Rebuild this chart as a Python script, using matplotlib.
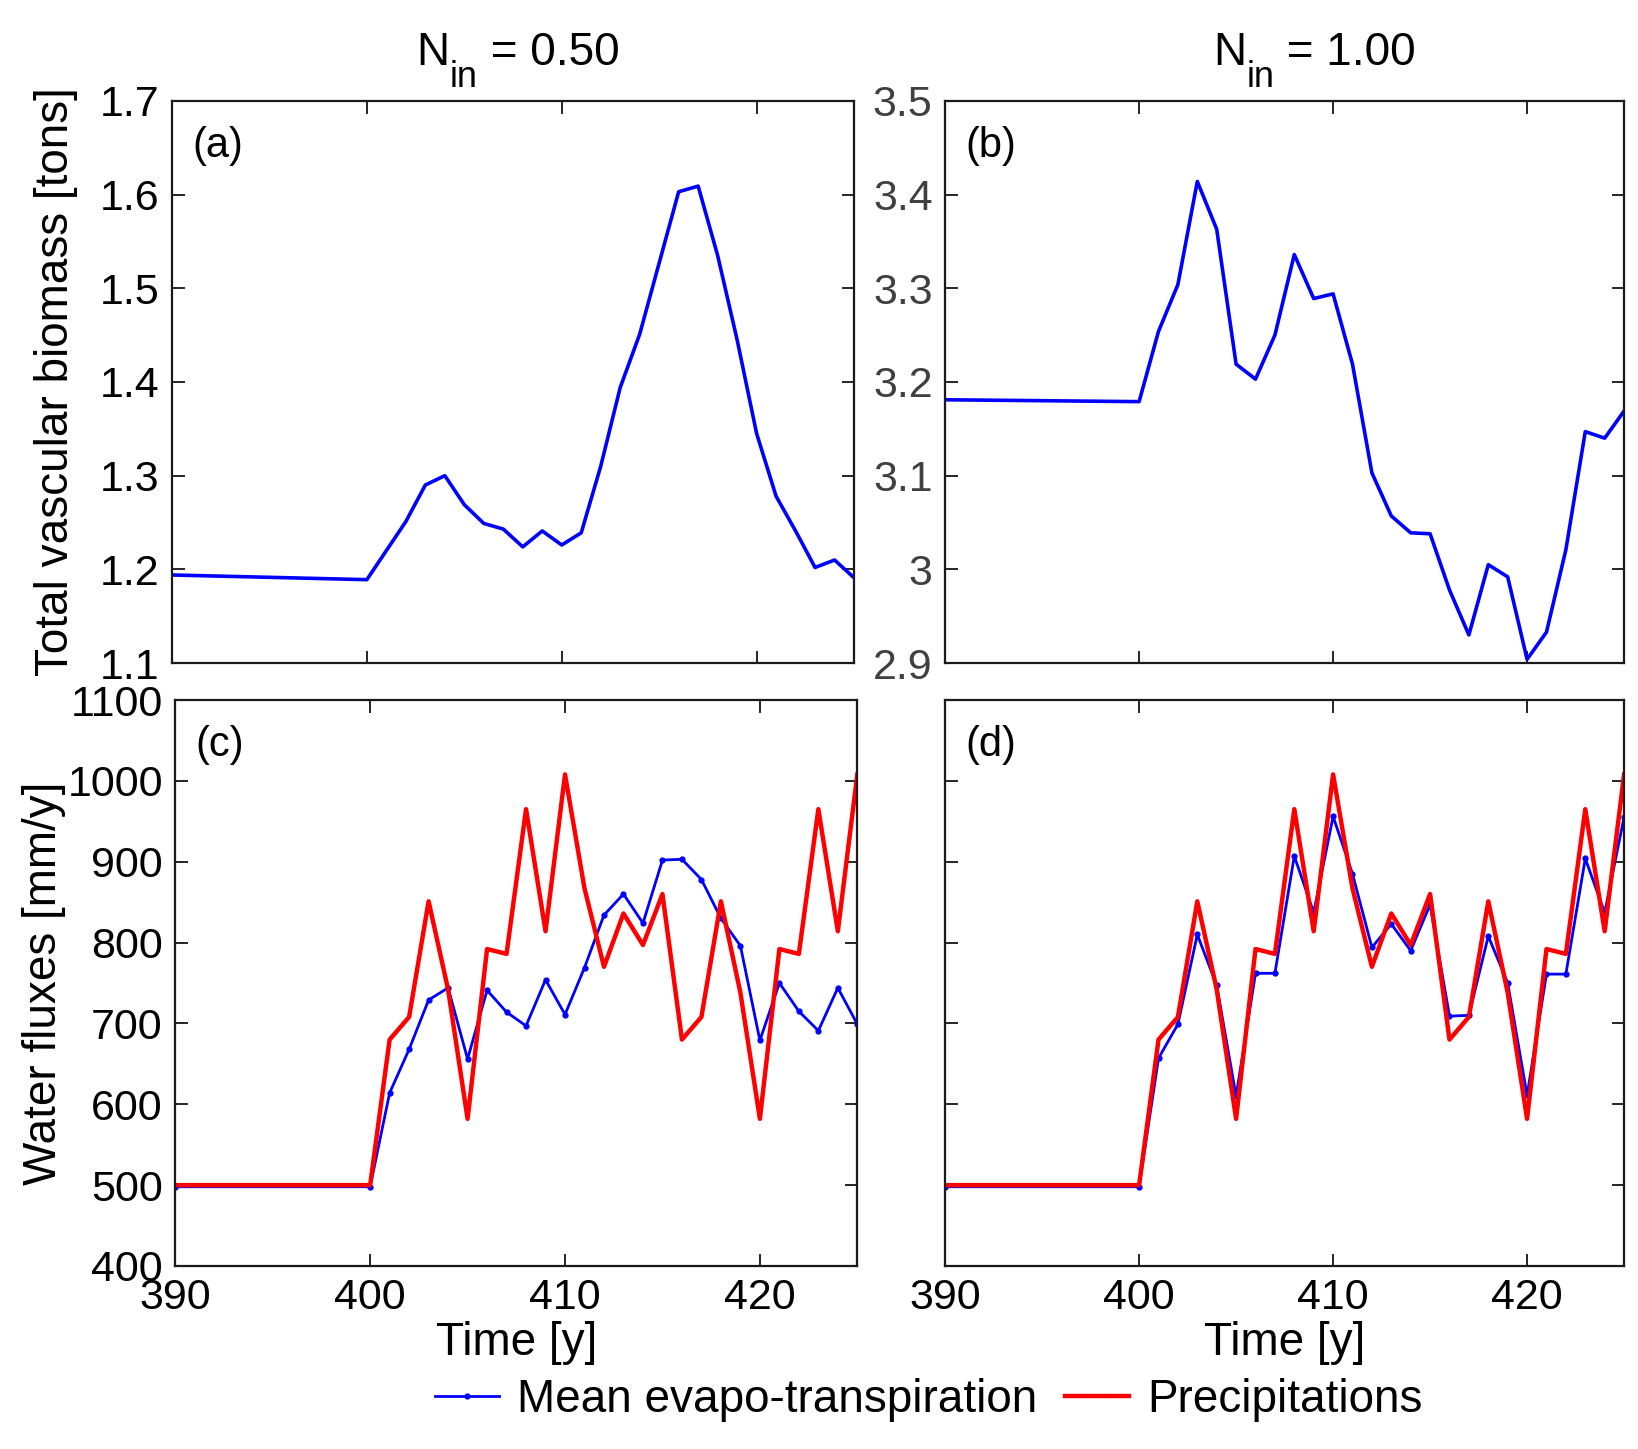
import matplotlib
matplotlib.use("Agg")
import matplotlib.pyplot as plt

plt.rcParams['font.family'] = ['Liberation Sans', 'DejaVu Sans']

# years: one point at 390, then yearly from 400 to 425
years = [390] + list(range(400, 426))

# total vascular biomass [tons]
biomass_050 = [1.194, 1.189, 1.220, 1.251, 1.290, 1.300, 1.269, 1.249, 1.243, 1.224,
               1.241, 1.226, 1.239, 1.310, 1.394, 1.451, 1.527, 1.603, 1.609, 1.535,
               1.445, 1.345, 1.278, 1.241, 1.202, 1.210, 1.191]
biomass_100 = [3.181, 3.179, 3.254, 3.304, 3.414, 3.363, 3.219, 3.203, 3.250, 3.336,
               3.289, 3.294, 3.219, 3.103, 3.057, 3.039, 3.038, 2.978, 2.930, 3.005,
               2.992, 2.904, 2.933, 3.021, 3.147, 3.140, 3.169]

# water fluxes [mm/y]
precip = [500, 500, 680, 708, 851, 742, 582, 792, 786, 965, 814, 1008, 867, 770, 836,
          797, 860, 680, 708, 851, 738, 582, 792, 786, 965, 814, 1008]
et_050 = [498, 498, 614, 668, 729, 744, 656, 741, 714, 697, 754, 711, 769, 834, 860,
          824, 902, 903, 878, 830, 796, 679, 750, 715, 691, 744, 699]
et_100 = [498, 498, 657, 699, 810, 747, 610, 762, 762, 907, 837, 956, 885, 794, 823,
          790, 847, 709, 710, 808, 750, 611, 761, 761, 904, 837, 955]

n_in = ['0.50', '1.00']
panel_tags = ['(a)', '(b)', '(c)', '(d)']

fig = plt.figure(figsize=(16.38, 14.49), dpi=100)
ax_a = fig.add_axes([0.105, 0.5424, 0.4164, 0.388])
ax_b = fig.add_axes([0.577, 0.5424, 0.4145, 0.388])
ax_c = fig.add_axes([0.107, 0.1263, 0.4164, 0.3906])
ax_d = fig.add_axes([0.577, 0.1263, 0.4145, 0.3906])
axes = [ax_a, ax_b, ax_c, ax_d]

blue = '#0000ff'
red = '#ff0000'

ax_a.plot(years, biomass_050, color=blue, lw=2.6)
ax_b.plot(years, biomass_100, color=blue, lw=2.6)
ax_a.set_ylim(1.1, 1.7)
ax_a.set_yticks([1.1, 1.2, 1.3, 1.4, 1.5, 1.6, 1.7])
ax_a.set_yticklabels(['1.1', '1.2', '1.3', '1.4', '1.5', '1.6', '1.7'])
ax_b.set_ylim(2.9, 3.5)
ax_b.set_yticks([2.9, 3.0, 3.1, 3.2, 3.3, 3.4, 3.5])
ax_b.set_yticklabels(['2.9', '3', '3.1', '3.2', '3.3', '3.4', '3.5'])

for ax, et in [(ax_c, et_050), (ax_d, et_100)]:
    ax.plot(years, et, color=blue, lw=2.0, marker='o', ms=3.5,
            label='Mean evapo-transpiration')
    ax.plot(years, precip, color=red, lw=3.2, label='Precipitations')
    ax.set_ylim(400, 1100)
    ax.set_yticks(range(400, 1101, 100))

ax_d.set_yticklabels([])
ax_c.set_ylabel('Water fluxes [mm/y]', fontsize=33, labelpad=1)
ax_a.set_ylabel('Total vascular biomass [tons]', fontsize=33, labelpad=16)

for i, ax in enumerate(axes):
    ax.set_xlim(390, 425)
    ax.set_xticks([390, 400, 410, 420])
    ax.tick_params(direction='in', length=9, width=1.2, top=True, right=True,
                   labelsize=31, pad=9)
    for sp in ax.spines.values():
        sp.set_linewidth(1.6)
        sp.set_color('#1a1a1a')
    ax.text(0.03, 0.92, panel_tags[i], transform=ax.transAxes, fontsize=30,
            ha='left', va='center')
    if i < 2:
        ax.set_xticklabels([])
    else:
        ax.set_xlabel('Time [y]', fontsize=33, labelpad=2)

ax_b.tick_params(axis='y', labelcolor='#404040')

# column titles "N_in = ..." with a low subscript, built from three pieces
renderer = fig.canvas.get_renderer()
for xc, val in zip([0.3162, 0.8025], n_in):
    pieces = [fig.text(0, 0.9551, 'N', fontsize=33, va='baseline'),
              fig.text(0, 0.9400, 'in', fontsize=26, va='baseline'),
              fig.text(0, 0.9551, ' = ' + val, fontsize=33, va='baseline')]
    widths = [p.get_window_extent(renderer).width / fig.bbox.width for p in pieces]
    x = xc - sum(widths) / 2
    for p, w in zip(pieces, widths):
        p.set_x(x)
        x += w

handles, labels = ax_c.get_legend_handles_labels()
fig.legend(handles, labels, loc='center', bbox_to_anchor=(0.567, 0.034), ncol=2,
           frameon=False, fontsize=33, handlelength=1.4, handletextpad=0.4,
           columnspacing=0.6)

fig.savefig('out.png', dpi=100)
